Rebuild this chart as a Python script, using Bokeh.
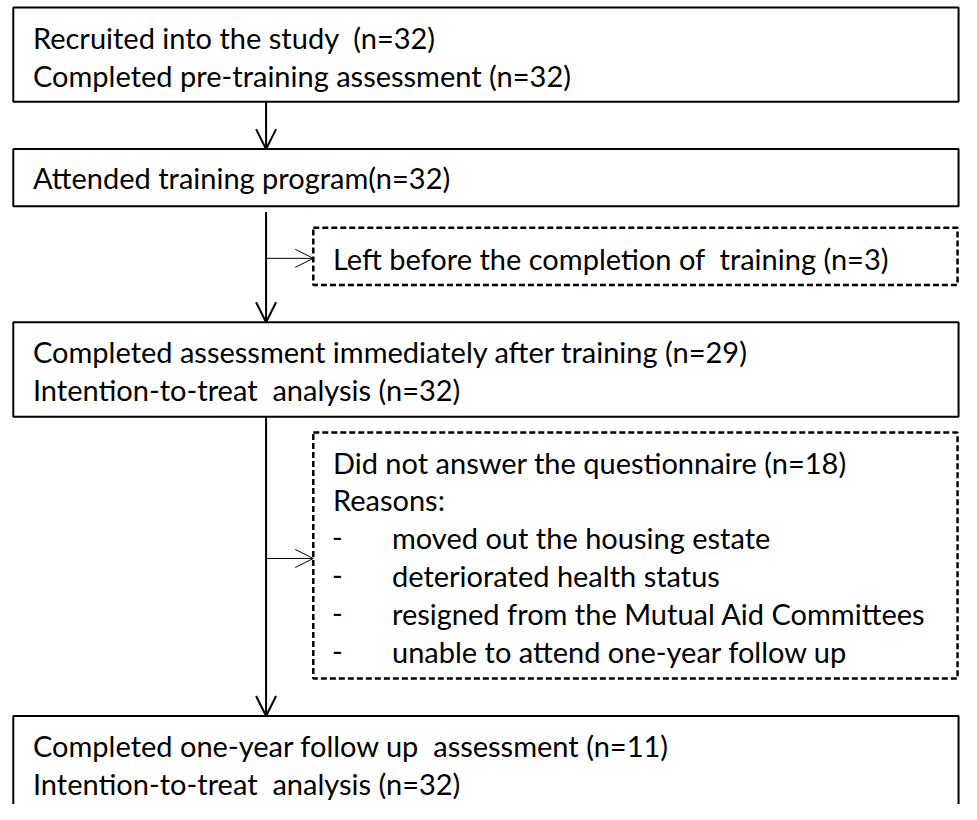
from bokeh.plotting import figure
from bokeh.models import ColumnDataSource, Range1d, Arrow, OpenHead
from bokeh.core.properties import value
from bokeh.embed import file_html
from bokeh.resources import INLINE

SP2 = " \u00a0"  # visible double space

# ---- content (texts of the flow diagram) ----
box1_lines = ["Recruited into the study" + SP2 + "(n=32)", "Completed pre-training assessment (n=32)"]
box2_lines = ["Attended training program(n=32)"]
box3_lines = ["Completed assessment immediately after training (n=29)", "Intention-to-treat" + SP2 + "analysis (n=32)"]
box4_lines = ["Completed one-year follow up" + SP2 + "assessment (n=11)", "Intention-to-treat" + SP2 + "analysis (n=32)"]
excl1_lines = ["Left before the completion of" + SP2 + "training (n=3)"]
excl2_head = ["Did not answer the questionnaire (n=18)", "Reasons:"]
excl2_items = ["moved out the housing estate", "deteriorated health status",
               "resigned from the Mutual Aid Committees", "unable to attend one-year follow up"]

# ---- layout (reference image pixel coordinates) ----
main_left, main_right = 13, 974
main_top = [7, 151, 327, 727]
main_bottom = [103, 209, 423, 850]
ex_left, ex_right = 318, 973
ex_top = [231, 439]
ex_bottom = [289, 689]
spine_x = 270
LINE = 38.5
FONT = value("Lato")
FS = "29px"

p = figure(width=961, height=804, x_range=Range1d(0, 977), y_range=Range1d(817, 0),
           output_backend="svg", toolbar_location=None, min_border=0,
           x_axis_location=None, y_axis_location=None, background_fill_color="white")
p.grid.visible = False
p.outline_line_color = None

# solid boxes
p.quad(left=[main_left] * 4, right=[main_right] * 4, top=main_top, bottom=main_bottom,
       fill_color=None, line_color="black", line_width=2)
# dashed boxes
p.quad(left=[ex_left] * 2, right=[ex_right] * 2, top=ex_top, bottom=ex_bottom,
       fill_color=None, line_color="black", line_width=2.5, line_dash="6 3")

# main downward arrows
main_arrows = ColumnDataSource(dict(x0=[spine_x] * 3, x1=[spine_x] * 3,
                                    y0=[103, 215, 423], y1=[151, 327, 727]))
p.add_layout(Arrow(end=OpenHead(size=20, line_width=2, line_color="black"),
                   x_start="x0", y_start="y0", x_end="x1", y_end="y1",
                   source=main_arrows, line_width=2, line_color="black"))
# side arrows
side_arrows = ColumnDataSource(dict(x0=[spine_x] * 2, x1=[ex_left] * 2,
                                    y0=[262, 567], y1=[262, 567]))
p.add_layout(Arrow(end=OpenHead(size=18, line_width=1, line_color="black"),
                   x_start="x0", y_start="y0", x_end="x1", y_end="y1",
                   source=side_arrows, line_width=1, line_color="black"))

# texts
xs, ys, ts = [], [], []
def add(lines, x, y0):
    for i, t in enumerate(lines):
        xs.append(x); ys.append(y0 + i * LINE); ts.append(t)

add(box1_lines, 33, 38)
add(box2_lines, 33, 180)
add(box3_lines, 33, 357)
add(box4_lines, 33, 757)
add(excl1_lines, 338, 262)
add(excl2_head, 338, 469)
add(["-"] * len(excl2_items), 337, 546)
add(excl2_items, 398, 546)

p.text(x="x", y="y", text="t", source=ColumnDataSource(dict(x=xs, y=ys, t=ts)),
       text_font=FONT, text_font_size=FS, text_baseline="middle", text_align="left",
       text_color="black")

open("out.html", "w").write(file_html(p, INLINE))
